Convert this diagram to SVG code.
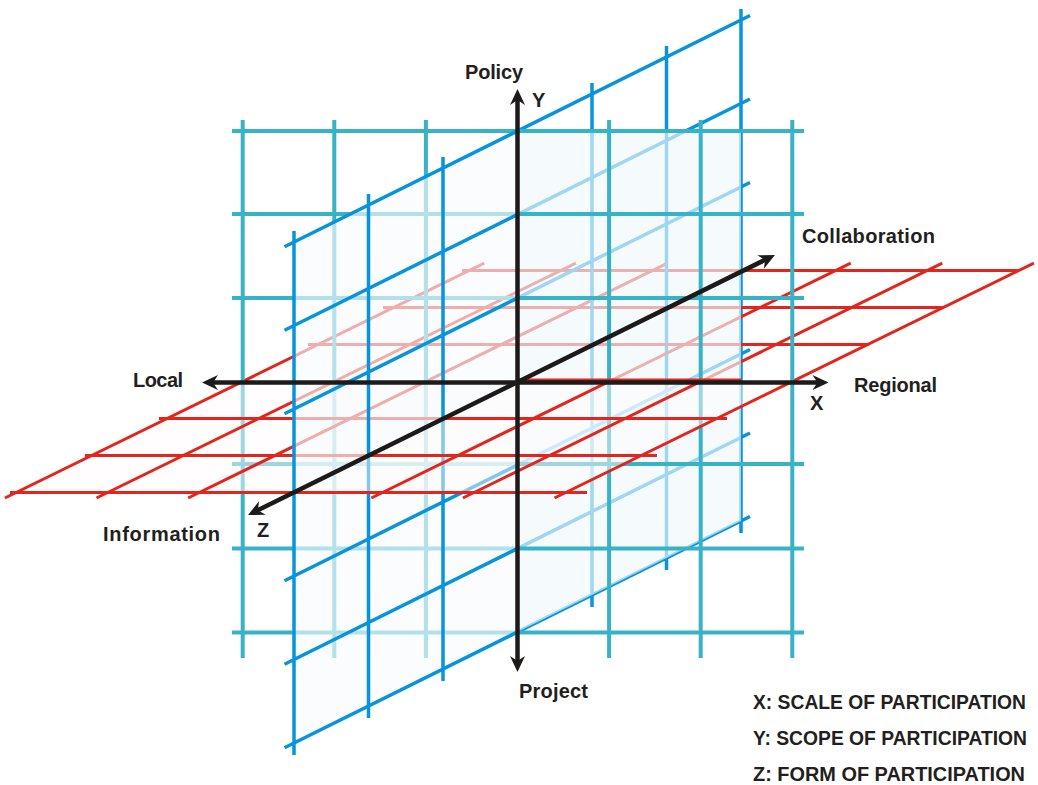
<svg xmlns="http://www.w3.org/2000/svg" width="1038" height="785" viewBox="0 0 1038 785">
  <defs>
    <style>
      .teal{stroke:#38b3c6;stroke-width:4;fill:none}
      .blue{stroke:#0794db;stroke-width:3.5;fill:none}
      .red{stroke:#e2261e;stroke-width:3;fill:none}
      .axis{stroke:#1d1a1a;stroke-width:4.5;fill:none;marker-start:url(#arrow);marker-end:url(#arrow)}
      .veil-blue{fill:#f7fbfd;fill-opacity:0.64}
      .veil-red{fill:#fffbfc;fill-opacity:0.5}
      .veil-teal{fill:#f0f9fc;fill-opacity:0.66}
      text{font-family:"Liberation Sans",Arial,sans-serif;font-weight:bold;font-size:20px;fill:#231f20}
      .legend{font-size:19.5px}
    </style>
    <marker id="arrow" viewBox="-17 -8 18 16" refX="-8" refY="0" markerWidth="18" markerHeight="16" markerUnits="userSpaceOnUse" orient="auto-start-reverse">
      <path d="M0,0 L-16,-7.5 L-11,0 L-16,7.5 Z" fill="#1d1a1a"/>
    </marker>

    <!-- quadrant clip regions: split by the X axis (horizontal), Y axis (vertical) and Z axis (slanted) -->
    <clipPath id="qLT"><rect x="-100" y="-100" width="617.5" height="481.5"/></clipPath>
    <clipPath id="qRT"><rect x="517.5" y="-100" width="682.5" height="481.5"/></clipPath>
    <clipPath id="qLB"><rect x="-100" y="381.5" width="617.5" height="518.5"/></clipPath>
    <clipPath id="qRB"><rect x="517.5" y="381.5" width="682.5" height="518.5"/></clipPath>
    <clipPath id="qLup"><polygon points="-100,-100 517.5,-100 517.5,381.5 -100,687.2"/></clipPath>
    <clipPath id="qLdn"><polygon points="517.5,381.5 517.5,900 -100,900 -100,687.2"/></clipPath>
    <clipPath id="qRup"><polygon points="517.5,-100 1200,-100 1200,43.7 517.5,381.5"/></clipPath>
    <clipPath id="qRdn"><polygon points="517.5,381.5 1200,43.7 1200,900 517.5,900"/></clipPath>
    <clipPath id="qUpT"><polygon points="-100,-100 1200,-100 1200,43.7 517.5,381.5 -100,381.5"/></clipPath>
    <clipPath id="qDnT"><polygon points="517.5,381.5 1200,43.7 1200,381.5"/></clipPath>
    <clipPath id="qUpB"><polygon points="-100,381.5 517.5,381.5 -100,687.2"/></clipPath>
    <clipPath id="qDnB"><polygon points="-100,687.2 517.5,381.5 1200,381.5 1200,900 -100,900"/></clipPath>

    <!-- XY plane grid -->
    <path id="xyGrid" class="teal" d="M242.7,120V658 M334.3,120V658 M425.9,120V658 M609.1,120V658 M700.7,120V658 M792.3,120V658
      M232,131H804 M232,214H804 M232,298H804 M232,464H804 M232,548.5H804 M232,632.5H804"/>
    <!-- YZ plane grid -->
    <path id="yzGrid" class="blue" d="M294,231V755 M368.5,194V718 M443,157V681 M592,83V607 M666.5,46V570 M741,9V533
      M284.5,246.7L750,15.5 M284.5,330.2L750,99 M284.5,413.7L750,182.5 M284.5,580.7L750,349.5 M284.5,664.2L750,433 M284.5,747.7L750,516.5"/>
    <!-- XZ plane grid -->
    <path id="xzGrid" class="red" d="M462,270.5H1018 M383,307.5H943 M308,344.5H869 M159,418.5H727 M85,455.5H657 M10,492.5H587
      M4.9,498L484.3,263.1 M96.5,498L575.9,263.1 M188.1,498L667.5,263.1 M371.3,498L850.7,263.1 M462.9,498L942.3,263.1 M554.5,498L1033.9,263.1"/>
  </defs>

  <rect width="1038" height="785" fill="#ffffff"/>

  <!-- back quadrants -->
  <use href="#yzGrid" clip-path="url(#qRdn)"/>
  <use href="#xzGrid" clip-path="url(#qUpT)"/>
  <use href="#xzGrid" clip-path="url(#qDnT)"/>
  <use href="#yzGrid" clip-path="url(#qRup)"/>

  <!-- XY plane -->
  <use href="#xyGrid" clip-path="url(#qLT)"/>
  <polygon class="veil-teal" points="517.5,131 741,131 741,381.5 517.5,381.5"/>
  <use href="#xyGrid" clip-path="url(#qRT)"/>
  <use href="#xyGrid" clip-path="url(#qLB)"/>
  <polygon class="veil-teal" points="517.5,381.5 741,381.5 741,521 517.5,632"/>
  <use href="#xyGrid" clip-path="url(#qRB)"/>

  <!-- front quadrants -->
  <polygon class="veil-blue" points="517.5,381.5 294,492.5 294,743 517.5,632"/>
  <use href="#yzGrid" clip-path="url(#qLdn)"/>
  <polygon class="veil-red" points="517.5,381.5 242.7,381.5 16.2,492.5 291,492.5"/>
  <use href="#xzGrid" clip-path="url(#qUpB)"/>
  <polygon class="veil-red" points="517.5,381.5 792.3,381.5 565.8,492.5 291,492.5"/>
  <use href="#xzGrid" clip-path="url(#qDnB)"/>
  <polygon class="veil-blue" points="517.5,381.5 517.5,131 294,242 294,492.5"/>
  <use href="#yzGrid" clip-path="url(#qLup)"/>

  <line class="red" x1="517.5" y1="380" x2="741" y2="380"/>

  <!-- axes -->
  <g id="axes">
    <line class="axis" x1="210" y1="382.5" x2="820.5" y2="382.5"/>
    <line class="axis" x1="517.5" y1="97" x2="517.5" y2="664"/>
    <line class="axis" x1="255.2" y1="511.5" x2="767.8" y2="258.5"/>
  </g>

  <!-- axis labels -->
  <g id="labels">
    <text x="465" y="79" textLength="58">Policy</text>
    <text x="532" y="107">Y</text>
    <text x="802" y="243" textLength="133">Collaboration</text>
    <text x="133" y="387" textLength="50">Local</text>
    <text x="854" y="392" textLength="83">Regional</text>
    <text x="810" y="410">X</text>
    <text x="103" y="541" textLength="117">Information</text>
    <text x="257" y="537">Z</text>
    <text x="519" y="698" textLength="69">Project</text>
  </g>

  <g id="legend">
    <text class="legend" x="753" y="709" textLength="273" lengthAdjust="spacingAndGlyphs">X: SCALE OF PARTICIPATION</text>
    <text class="legend" x="753" y="745" textLength="274" lengthAdjust="spacingAndGlyphs">Y: SCOPE OF PARTICIPATION</text>
    <text class="legend" x="753" y="781" textLength="272" lengthAdjust="spacingAndGlyphs">Z: FORM OF PARTICIPATION</text>
  </g>
</svg>
